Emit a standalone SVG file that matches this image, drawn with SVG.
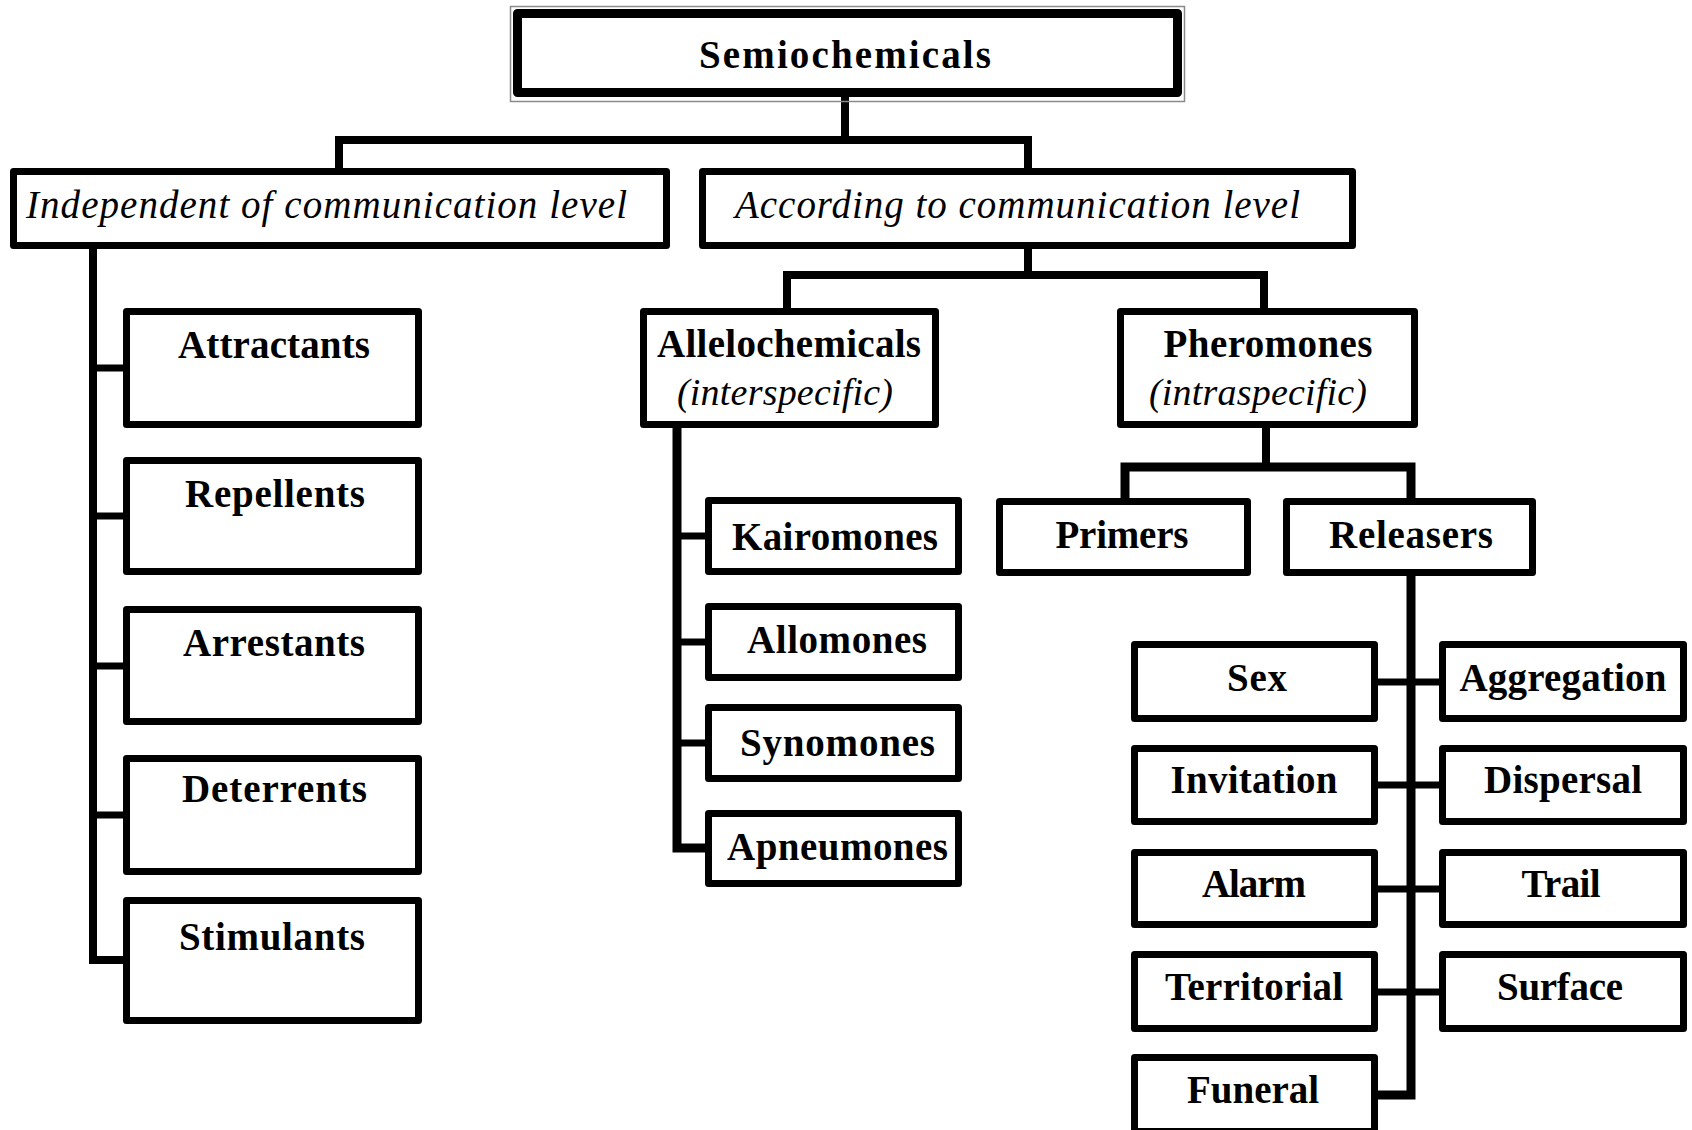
<svg xmlns="http://www.w3.org/2000/svg" width="1692" height="1130" viewBox="0 0 1692 1130">
  <style>
    .box { fill: #fff; stroke: #000; stroke-width: 7; stroke-linejoin: round; }
    .root { fill: #fff; stroke: #000; stroke-width: 9; stroke-linejoin: round; }
    .frame { fill: none; stroke: #8a8a8a; stroke-width: 1.5; }
    .lbl { font-family: "Liberation Serif", "Times New Roman", serif; font-weight: bold; font-size: 39px; fill: #000; text-anchor: middle; }
    .it { font-family: "Liberation Serif", "Times New Roman", serif; font-style: italic; font-size: 39px; fill: #000; }
    .sub { font-family: "Liberation Serif", "Times New Roman", serif; font-style: italic; font-size: 38px; fill: #000; text-anchor: middle; }
    .wire { fill: none; stroke: #000; stroke-width: 8; stroke-linecap: square; stroke-linejoin: miter; }
    .tick { fill: none; stroke: #000; stroke-width: 7; }
  </style>
  <rect width="1692" height="1130" fill="#fff"/>

  <!-- connectors -->
  <g id="connectors">
    <path class="wire" d="M845,101 V140"/>
    <path class="wire" d="M339,168 V140 H1028 V168"/>
    <path class="wire" d="M93,249 V960 H123"/>
    <path class="tick" d="M93,368 H124 M93,516 H124 M93,666 H124 M93,815 H124"/>
    <path class="wire" d="M1028,249 V275"/>
    <path class="wire" d="M787,308 V275 H1264 V308"/>
    <path class="wire" d="M677,428 V848 H705" style="stroke-width:9"/>
    <path class="tick" d="M677,536 H706 M677,642 H706 M677,743 H706"/>
    <path class="wire" d="M1266,428 V467"/>
    <path class="wire" d="M1125,498 V467 H1411 V498" style="stroke-width:9"/>
    <path class="wire" d="M1411,576 V1095 H1378" style="stroke-width:9"/>
    <path class="tick" d="M1378,682 H1440 M1378,785 H1440 M1378,889 H1440 M1378,992 H1440"/>
  </g>

  <!-- root -->
  <g id="semiochemicals">
    <rect class="frame" x="510.5" y="6.5" width="674" height="95"/>
    <rect class="root" x="517.5" y="13.5" width="660" height="79"/>
    <text class="lbl" x="845" y="68" textLength="292">Semiochemicals</text>
  </g>

  <!-- first level -->
  <g id="independent">
    <rect class="box" x="13.5" y="171.5" width="653" height="74"/>
    <text class="it" x="26" y="218" textLength="601">Independent of communication level</text>
  </g>
  <g id="according">
    <rect class="box" x="702.5" y="171.5" width="650" height="74"/>
    <text class="it" x="735" y="218" textLength="565">According to communication level</text>
  </g>

  <!-- independent branch -->
  <g id="attractants">
    <rect class="box" x="126.5" y="311.5" width="292" height="113"/>
    <text class="lbl" x="274" y="358" textLength="192">Attractants</text>
  </g>
  <g id="repellents">
    <rect class="box" x="126.5" y="460.5" width="292" height="111"/>
    <text class="lbl" x="275" y="507" textLength="180">Repellents</text>
  </g>
  <g id="arrestants">
    <rect class="box" x="126.5" y="609.5" width="292" height="112"/>
    <text class="lbl" x="274" y="656" textLength="182">Arrestants</text>
  </g>
  <g id="deterrents">
    <rect class="box" x="126.5" y="758.5" width="292" height="113"/>
    <text class="lbl" x="274.5" y="802" textLength="185">Deterrents</text>
  </g>
  <g id="stimulants">
    <rect class="box" x="126.5" y="900.5" width="292" height="120"/>
    <text class="lbl" x="272" y="950" textLength="186">Stimulants</text>
  </g>

  <!-- according branch -->
  <g id="allelochemicals">
    <rect class="box" x="643.5" y="311.5" width="292" height="113"/>
    <text class="lbl" x="789" y="357" textLength="264">Allelochemicals</text>
    <text class="sub" x="785" y="405" textLength="216">(interspecific)</text>
  </g>
  <g id="pheromones">
    <rect class="box" x="1120.5" y="311.5" width="294" height="113"/>
    <text class="lbl" x="1268" y="357" textLength="209">Pheromones</text>
    <text class="sub" x="1258" y="405" textLength="218">(intraspecific)</text>
  </g>

  <g id="kairomones">
    <rect class="box" x="708.5" y="500.5" width="250" height="71"/>
    <text class="lbl" x="835" y="550" textLength="206">Kairomones</text>
  </g>
  <g id="allomones">
    <rect class="box" x="708.5" y="606.5" width="250" height="71"/>
    <text class="lbl" x="837" y="653" textLength="180">Allomones</text>
  </g>
  <g id="synomones">
    <rect class="box" x="708.5" y="707.5" width="250" height="71"/>
    <text class="lbl" x="837.5" y="756" textLength="195">Synomones</text>
  </g>
  <g id="apneumones">
    <rect class="box" x="708.5" y="813.5" width="250" height="70"/>
    <text class="lbl" x="837.5" y="860" textLength="221">Apneumones</text>
  </g>

  <g id="primers">
    <rect class="box" x="999.5" y="501.5" width="248" height="71"/>
    <text class="lbl" x="1122" y="548" textLength="133">Primers</text>
  </g>
  <g id="releasers">
    <rect class="box" x="1286.5" y="501.5" width="246" height="71"/>
    <text class="lbl" x="1411" y="548" textLength="164">Releasers</text>
  </g>

  <!-- releaser types -->
  <g id="sex">
    <rect class="box" x="1134.5" y="644.5" width="240" height="74"/>
    <text class="lbl" x="1257" y="691" textLength="60">Sex</text>
  </g>
  <g id="aggregation">
    <rect class="box" x="1442.5" y="644.5" width="241" height="74"/>
    <text class="lbl" x="1563" y="691" textLength="207">Aggregation</text>
  </g>
  <g id="invitation">
    <rect class="box" x="1134.5" y="748.5" width="240" height="73"/>
    <text class="lbl" x="1254" y="793" textLength="167">Invitation</text>
  </g>
  <g id="dispersal">
    <rect class="box" x="1442.5" y="748.5" width="241" height="73"/>
    <text class="lbl" x="1563" y="793" textLength="158">Dispersal</text>
  </g>
  <g id="alarm">
    <rect class="box" x="1134.5" y="852.5" width="240" height="72"/>
    <text class="lbl" x="1254" y="897" textLength="104">Alarm</text>
  </g>
  <g id="trail">
    <rect class="box" x="1442.5" y="852.5" width="241" height="72"/>
    <text class="lbl" x="1561" y="897" textLength="79">Trail</text>
  </g>
  <g id="territorial">
    <rect class="box" x="1134.5" y="954.5" width="240" height="74"/>
    <text class="lbl" x="1254" y="1000" textLength="178">Territorial</text>
  </g>
  <g id="surface">
    <rect class="box" x="1442.5" y="954.5" width="241" height="74"/>
    <text class="lbl" x="1560" y="1000" textLength="126">Surface</text>
  </g>
  <g id="funeral">
    <rect class="box" x="1134.5" y="1057.5" width="240" height="74"/>
    <text class="lbl" x="1253" y="1103" textLength="132">Funeral</text>
  </g>
</svg>
